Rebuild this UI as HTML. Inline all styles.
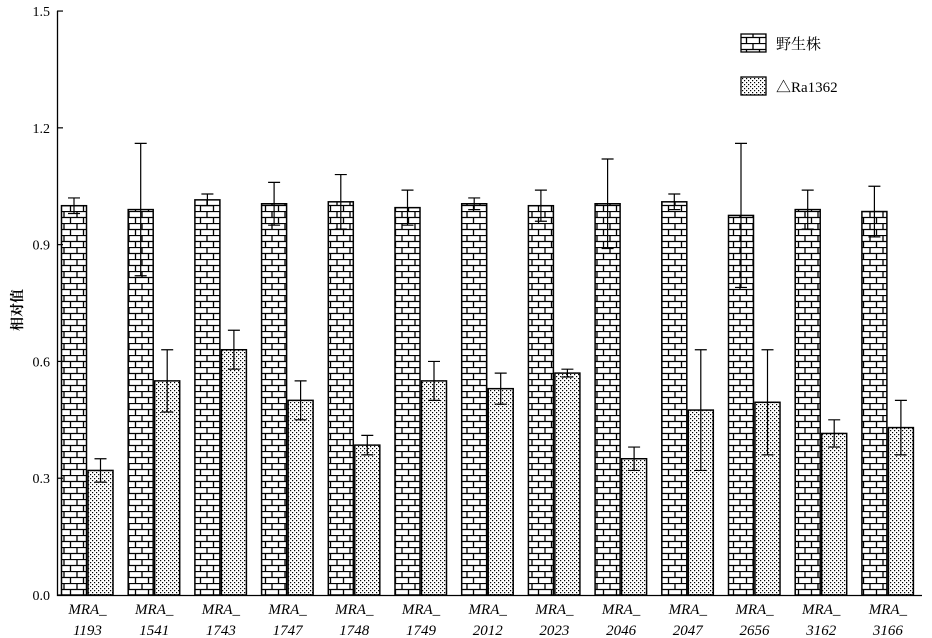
<!DOCTYPE html>
<html><head><meta charset="utf-8"><style>
html,body{margin:0;padding:0;background:#fff;}
svg{display:block;}
text{font-family:"Liberation Serif","Noto Serif CJK SC",serif;fill:#000;}
</style></head><body>
<svg id="s" width="932" height="638" xmlns="http://www.w3.org/2000/svg">
<defs>
<pattern id="brick" patternUnits="userSpaceOnUse" width="13" height="12" x="61" y="595">
<rect width="13" height="12" fill="#fff"/>
<path d="M0 0.5H13M0 6.5H13M3 0V6M9.5 6V12" stroke="#000" stroke-width="1.3" fill="none"/>
</pattern>
<pattern id="dots" patternUnits="userSpaceOnUse" width="4" height="4">
<rect width="4" height="4" fill="#fff"/>
<rect x="0" y="0" width="1.2" height="1.2" fill="#000"/>
<rect x="2" y="2" width="1.2" height="1.2" fill="#000"/>
</pattern>
</defs>
<g id="g"></g>
</svg>
<script>
var g=document.getElementById('g'),h='';
function Y(v){return 595-389.3*v;}
var w=[[1.0,1.02,0.98],[0.99,1.16,0.82],[1.015,1.03,1.0],[1.005,1.06,0.95],[1.01,1.08,0.94],[0.995,1.04,0.95],[1.005,1.02,0.99],[1.0,1.04,0.96],[1.005,1.12,0.89],[1.01,1.03,0.99],[0.975,1.16,0.79],[0.99,1.04,0.94],[0.985,1.05,0.92]];
var d=[[0.32,0.35,0.29],[0.55,0.63,0.47],[0.63,0.68,0.58],[0.50,0.55,0.45],[0.385,0.41,0.36],[0.55,0.60,0.50],[0.53,0.57,0.49],[0.57,0.58,0.56],[0.35,0.38,0.32],[0.475,0.63,0.32],[0.495,0.63,0.36],[0.415,0.45,0.38],[0.43,0.50,0.36]];
var lab=['1193','1541','1743','1747','1748','1749','2012','2023','2046','2047','2656','3162','3166'];
function bar(x,v,f){var y=Y(v[0]);h+='<rect x="'+x+'" y="'+y+'" width="25" height="'+(595-y)+'" fill="url(#'+f+')" stroke="#000" stroke-width="1.5"/>';
var c=x+12.5;h+='<path d="M'+c+' '+Y(v[1])+'V'+Y(v[2])+'M'+(c-6)+' '+Y(v[1])+'H'+(c+6)+'M'+(c-6)+' '+Y(v[2])+'H'+(c+6)+'" stroke="#000" stroke-width="1.2" fill="none"/>';}
for(var i=0;i<13;i++){var x=61.5+66.7*i;bar(x,w[i],'brick');bar(x+26.5,d[i],'dots');
h+='<text x="'+(x+26)+'" y="614" font-size="15" font-style="italic" text-anchor="middle">MRA_</text>';
h+='<text x="'+(x+26)+'" y="635" font-size="15" font-style="italic" text-anchor="middle">'+lab[i]+'</text>';}
h+='<path d="M57.5 11V595.5H922" stroke="#000" stroke-width="1.3" fill="none"/>';
['0.0','0.3','0.6','0.9','1.2','1.5'].forEach(function(t,k){var y=Y(k*0.3);h+='<path d="M57 '+y+'H63" stroke="#000" stroke-width="1.2"/><text x="50" y="'+(y+5)+'" font-size="14" text-anchor="end">'+t+'</text>';});
h+='<text transform="translate(22,310) rotate(-90)" font-size="14" font-weight="bold" text-anchor="middle">相对值</text>';
h+='<rect x="741" y="34" width="25" height="18" fill="url(#brick)" stroke="#000" stroke-width="1.3"/><text x="776" y="49" font-size="15">野生株</text>';
h+='<rect x="741" y="77" width="25" height="18" fill="url(#dots)" stroke="#000" stroke-width="1.3"/><text x="776" y="92" font-size="15">△Ra1362</text>';
g.innerHTML=h;
</script>
</body></html>
